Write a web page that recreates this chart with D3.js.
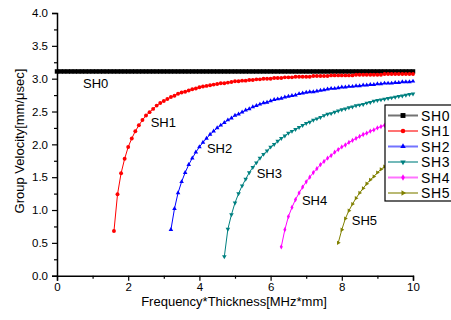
<!DOCTYPE html>
<html>
<head>
<meta charset="utf-8">
<script src="https://cdn.jsdelivr.net/npm/d3@7"></script>
<style>
  body { margin: 0; background: #fff; }
  svg text { font-family: "Liberation Sans", Arial, sans-serif; fill: #000; }
</style>
</head>
<body>
<svg id="chart" width="451" height="320"></svg>
<script>
// frequency*thickness grid (MHz*mm)
const freq = [0.0,0.1,0.2,0.3,0.4,0.5,0.6,0.7,0.8,0.9,1.0,1.1,1.2,1.3,1.4,1.5,1.6,1.7,1.8,1.9,
  2.0,2.1,2.2,2.3,2.4,2.5,2.6,2.7,2.8,2.9,3.0,3.1,3.2,3.3,3.4,3.5,3.6,3.7,3.8,3.9,
  4.0,4.1,4.2,4.3,4.4,4.5,4.6,4.7,4.8,4.9,5.0,5.1,5.2,5.3,5.4,5.5,5.6,5.7,5.8,5.9,
  6.0,6.1,6.2,6.3,6.4,6.5,6.6,6.7,6.8,6.9,7.0,7.1,7.2,7.3,7.4,7.5,7.6,7.7,7.8,7.9,
  8.0,8.1,8.2,8.3,8.4,8.5,8.6,8.7,8.8,8.9,9.0,9.1,9.2,9.3,9.4,9.5,9.6,9.7,9.8,9.9,10.0];

// group velocity values (mm/us), each series starts at its cutoff
const sh0 = [3.11,3.11,3.11,3.11,3.11,3.11,3.11,3.11,3.11,3.11,3.11,3.11,3.11,3.11,3.11,3.11,3.11,3.11,3.11,3.11,
  3.11,3.11,3.11,3.11,3.11,3.11,3.11,3.11,3.11,3.11,3.11,3.11,3.11,3.11,3.11,3.11,3.11,3.11,3.11,3.11,
  3.11,3.11,3.11,3.11,3.11,3.11,3.11,3.11,3.11,3.11,3.11,3.11,3.11,3.11,3.11,3.11,3.11,3.11,3.11,3.11,
  3.11,3.11,3.11,3.11,3.11,3.11,3.11,3.11,3.11,3.11,3.11,3.11,3.11,3.11,3.11,3.11,3.11,3.11,3.11,3.11,
  3.11,3.11,3.11,3.11,3.11,3.11,3.11,3.11,3.11,3.11,3.11,3.11,3.11,3.11,3.11,3.11,3.11,3.11,3.11,3.11,3.11];
const sh1 = [0.68,1.24,1.56,1.78,1.96,2.09,2.20,2.29,2.37,2.44,
  2.49,2.54,2.59,2.63,2.66,2.69,2.72,2.74,2.77,2.79,
  2.80,2.82,2.84,2.85,2.87,2.88,2.89,2.90,2.91,2.92,
  2.93,2.93,2.94,2.95,2.96,2.96,2.97,2.97,2.98,2.98,
  2.99,2.99,3.00,3.00,3.00,3.01,3.01,3.01,3.02,3.02,
  3.02,3.03,3.03,3.03,3.03,3.03,3.04,3.04,3.04,3.04,
  3.04,3.05,3.05,3.05,3.05,3.05,3.05,3.05,3.06,3.06,
  3.06,3.06,3.06,3.06,3.06,3.06,3.07,3.07,3.07,3.07,
  3.07,3.07,3.07,3.07,3.07];
const sh2 = [0.70,1.02,1.26,1.43,1.57,1.69,1.79,1.88,1.96,2.03,
  2.09,2.15,2.20,2.25,2.29,2.33,2.37,2.40,2.44,2.46,
  2.49,2.52,2.54,2.57,2.59,2.61,2.63,2.64,2.66,2.68,
  2.69,2.70,2.72,2.73,2.74,2.75,2.77,2.78,2.79,2.80,
  2.80,2.81,2.82,2.83,2.84,2.85,2.85,2.86,2.87,2.87,
  2.88,2.88,2.89,2.89,2.90,2.90,2.91,2.91,2.92,2.92,
  2.93,2.93,2.93,2.94,2.94,2.95,2.95,2.95,2.96];
const sh3 = [0.29,0.71,0.93,1.11,1.25,1.37,1.47,1.57,1.65,1.72,
  1.79,1.85,1.90,1.96,2.00,2.05,2.09,2.13,2.17,2.20,
  2.23,2.26,2.29,2.32,2.34,2.37,2.39,2.41,2.44,2.46,
  2.47,2.49,2.51,2.53,2.54,2.56,2.57,2.59,2.60,2.61,
  2.63,2.64,2.66,2.67,2.68,2.69,2.70,2.71,2.72,2.73,
  2.74,2.75,2.76,2.77];
const sh4 = [0.44,0.70,0.90,1.04,1.16,1.26,1.35,1.43,1.50,1.57,
  1.63,1.69,1.74,1.79,1.83,1.88,1.92,1.96,1.99,2.03,
  2.06,2.09,2.12,2.15,2.17,2.20,2.22,2.25,2.27,2.29,
  2.31,2.33,2.35,2.37,2.39,2.40,2.42,2.44];
const sh5 = [0.50,0.70,0.87,0.99,1.09,1.18,1.26,1.33,1.40,1.46,
  1.51,1.57,1.62,1.66,1.71,1.75,1.79,1.82,1.86,1.89,
  1.93,1.96];

const names = ["SH0", "SH1", "SH2", "SH3", "SH4", "SH5"];
const startFreq = [0.0, 1.6, 3.2, 4.7, 6.3, 7.9];
const values = [sh0, sh1, sh2, sh3, sh4, sh5];
const colors = ["#000000", "#ff0000", "#0000ff", "#008080", "#ff00ff", "#808000"];
const symbols = [d3.symbolSquare, d3.symbolCircle, d3.symbolTriangle, d3.symbolTriangle, d3.symbolDiamond, d3.symbolTriangle];
const symRotate = [0, 0, 0, 180, 0, 90];
const symSize = [20, 12, 9, 9, 8, 8];

// in-plot mode labels, anchored in data units
const labelF = [0.73, 2.63, 4.21, 5.61, 6.88, 8.28];
const labelV = [2.93, 2.34, 1.93, 1.55, 1.15, 0.84];

const xTicks = [0, 2, 4, 6, 8, 10];
const xMinor = [1, 3, 5, 7, 9];
const yTicks = [0, 0.5, 1.0, 1.5, 2.0, 2.5, 3.0, 3.5, 4.0];
const yMinor = [0.25, 0.75, 1.25, 1.75, 2.25, 2.75, 3.25, 3.75];

const svg = d3.select("#chart");
const x = d3.scaleLinear().domain([0, 10]).range([57, 413]);
const y = d3.scaleLinear().domain([0, 4]).range([275.7, 13]);

const series = names.map((name, i) => {
  const k = freq.findIndex(f => Math.abs(f - startFreq[i]) < 1e-6);
  return { name: name, color: colors[i], i: i,
    pts: values[i].map((v, j) => ({ f: freq[k + j], v: v })) };
});

// axes
svg.append("g").attr("transform", "translate(0,275.7)")
  .call(d3.axisBottom(x).tickValues(xTicks).tickSize(5).tickPadding(2).tickFormat(d3.format("d")));
svg.append("g").attr("transform", "translate(0,275.7)")
  .call(d3.axisBottom(x).tickValues(xMinor).tickSize(3).tickFormat(""))
  .select(".domain").remove();
svg.append("g").attr("transform", "translate(57,0)")
  .call(d3.axisLeft(y).tickValues(yTicks).tickSize(5).tickPadding(4).tickFormat(d3.format(".1f")));
svg.append("g").attr("transform", "translate(57,0)")
  .call(d3.axisLeft(y).tickValues(yMinor).tickSize(3).tickFormat(""))
  .select(".domain").remove();

svg.selectAll(".domain").attr("stroke-width", 1.5);
svg.selectAll(".tick line").attr("stroke-width", 1.2);
svg.selectAll(".tick text").attr("font-size", 11.5)
  .style("font-family", "'Liberation Sans', Arial, sans-serif").attr("fill", "#222");

svg.append("text").attr("x", 234).attr("y", 306).attr("text-anchor", "middle")
  .attr("font-size", 13).text("Frequency*Thickness[MHz*mm]");
svg.append("text").attr("transform", "translate(24,141) rotate(-90)").attr("text-anchor", "middle")
  .attr("font-size", 13).text("Group Velocity[mm/μsec]");

// curves
const line = d3.line().x(d => x(d.f)).y(d => y(d.v));
const g = svg.append("g");
series.forEach(s => {
  g.append("path").datum(s.pts).attr("d", line)
    .attr("fill", "none").attr("stroke", s.color).attr("stroke-width", 1);
  g.append("g").selectAll("path").data(s.pts).join("path")
    .attr("d", d3.symbol().type(symbols[s.i]).size(symSize[s.i]))
    .attr("transform", d => `translate(${x(d.f)},${y(d.v)}) rotate(${symRotate[s.i]})`)
    .attr("fill", s.color);
});

// mode labels
svg.append("g").selectAll("text").data(names).join("text")
  .attr("x", (d, i) => x(labelF[i])).attr("y", (d, i) => y(labelV[i]))
  .attr("dy", "0.35em").attr("font-size", 13).text(d => d);

// legend
const lg = svg.append("g");
lg.append("rect").attr("x", 385).attr("y", 105).attr("width", 80).attr("height", 96)
  .attr("fill", "#fff").attr("stroke", "#000").attr("stroke-width", 1.2);
const row = lg.selectAll("g").data(series).join("g")
  .attr("transform", (d, i) => `translate(0,${115.5 + i * 15.5})`);
row.append("line").attr("x1", 388).attr("x2", 418)
  .attr("stroke", d => d.color).attr("stroke-width", 2).attr("stroke-opacity", 0.55);
row.append("path")
  .attr("d", d => d3.symbol().type(symbols[d.i]).size(symSize[d.i] + 4)())
  .attr("transform", d => `translate(403,0) rotate(${symRotate[d.i]})`)
  .attr("fill", d => d.color);
row.append("text").attr("x", 421).attr("dy", "0.36em").attr("font-size", 14)
  .attr("letter-spacing", 0.6).text(d => d.name);
</script>
</body>
</html>
